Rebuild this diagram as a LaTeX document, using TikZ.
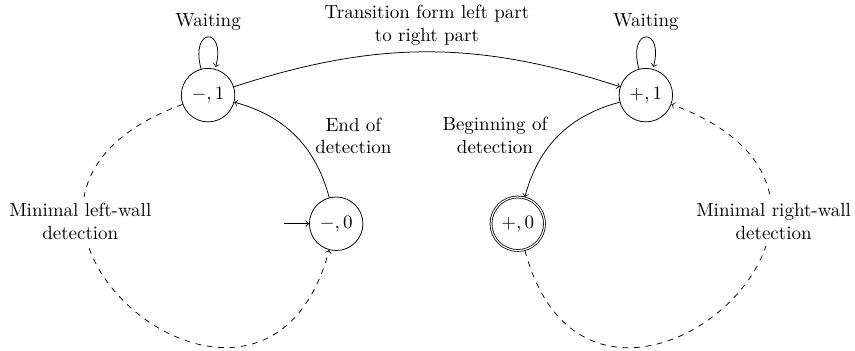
\documentclass[tikz,border=0pt]{standalone}
\usetikzlibrary{automata}

\begin{document}
\begin{tikzpicture}[>=to, ->,
    every state/.style={draw},
    wall/.style={dashed},
    walllabel/.style={fill=white, align=center}]

    \useasboundingbox (0,0) rectangle (15.82,6.49);

    % ── States ───────────────────────────────────────────────────────────────
    \node[state]                           (m1) at (3.85,4.73) {$-,1$};
    \node[state, initial, initial text={}] (m0) at (6.22,2.35) {$-,0$};
    \node[state]                           (p1) at (11.95,4.73) {$+,1$};
    \node[state, accepting]                (p0) at (9.58,2.35) {$+,0$};

    % ── Waiting loops ────────────────────────────────────────────────────────
    \path (m1) edge[loop above] node[above] {Waiting} ()
          (p1) edge[loop above] node[above] {Waiting} ();

    % ── Left part to right part ──────────────────────────────────────────────
    \path (m1) edge[bend left=18] node[above, align=center]
        {Transition form left part\\to right part} (p1);

    % ── Detections ───────────────────────────────────────────────────────────
    \path (m0) edge[bend right=30] node[right, align=center, xshift=0.24cm]
        {End of\\detection} (m1);
    \path (p1) edge[bend right=30] node[left, align=center, xshift=-0.08cm]
        {Beginning of\\detection} (p0);

    % ── Minimal wall detections (dashed, round the outside) ──────────────────
    \path (m1) edge[wall, out=200, in=255, out distance=150pt, in distance=136pt]
        node[walllabel, pos=0.29, xshift=-0.05cm]
        {Minimal left-wall\\detection} (m0);
    \path (p0) edge[wall, out=285, in=340, out distance=136pt, in distance=150pt]
        node[walllabel, pos=0.71, xshift=0.05cm]
        {Minimal right-wall\\detection} (p1);

\end{tikzpicture}
\end{document}
